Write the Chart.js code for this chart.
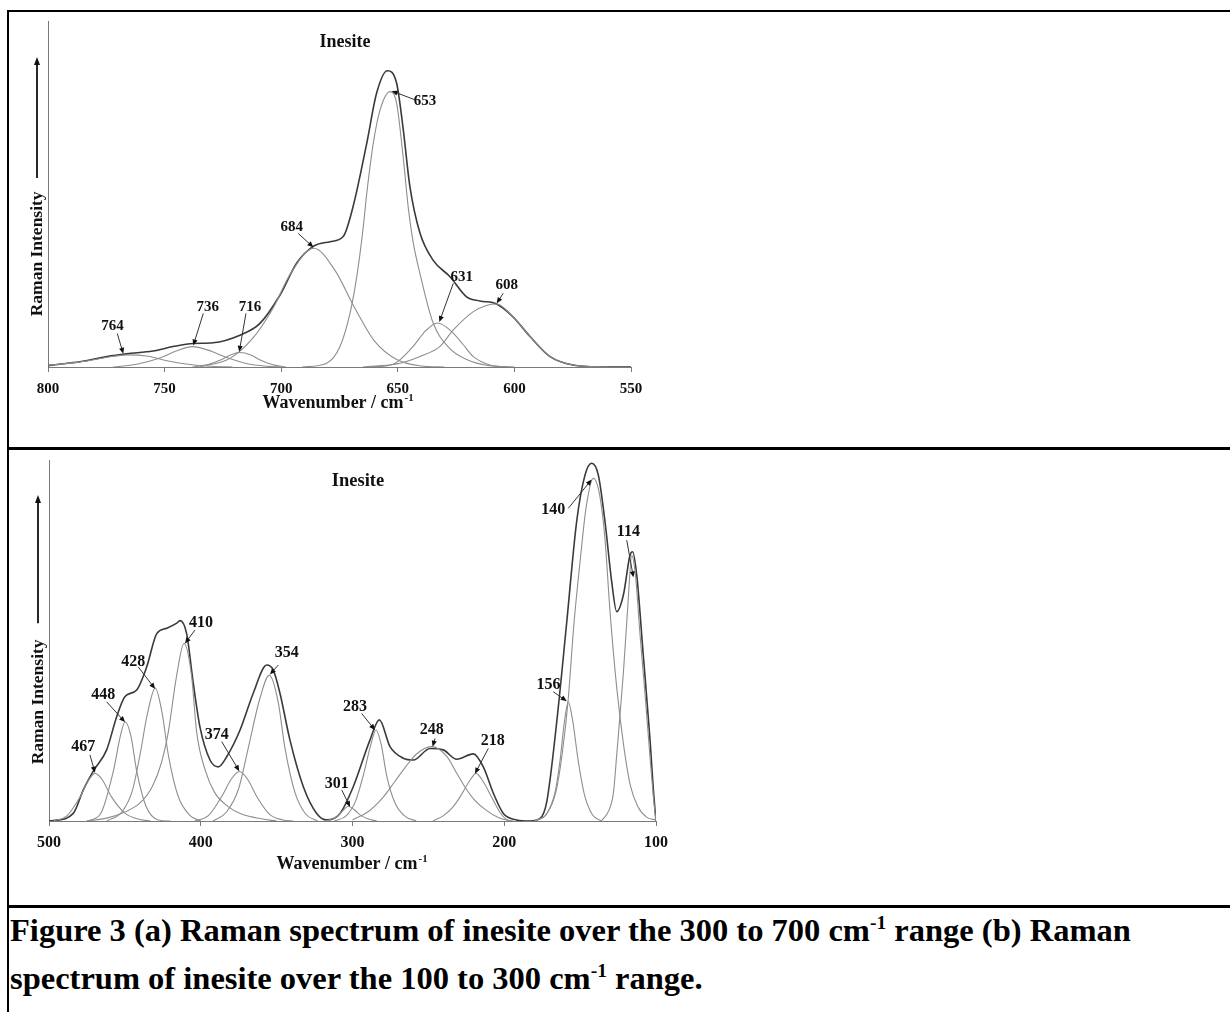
<!DOCTYPE html>
<html><head><meta charset="utf-8">
<script src="https://cdn.jsdelivr.net/npm/chart.js@4.4.1/dist/chart.umd.min.js"></script>
<style>
html,body{margin:0;padding:0;background:#fff;}
body{width:1230px;height:1012px;position:relative;overflow:hidden;font-family:"Liberation Serif","Times New Roman",serif;}
.rule{position:absolute;background:#000;}
canvas{position:absolute;left:0;}
#cap{position:absolute;left:10px;top:906px;font-weight:bold;font-size:32.5px;line-height:48px;color:#000;white-space:nowrap;}
#cap sup{font-size:0.6em;line-height:0;vertical-align:0.6em;}
</style></head><body>
<div class="rule" style="left:7px;top:10px;width:1223px;height:2px"></div>
<div class="rule" style="left:7px;top:10px;width:2px;height:1002px"></div>
<div class="rule" style="left:7px;top:447px;width:1223px;height:3px"></div>
<div class="rule" style="left:7px;top:905px;width:1223px;height:3px"></div>
<canvas id="topChart" width="1230" height="440" style="top:0"></canvas>
<canvas id="botChart" width="1230" height="450" style="top:450px"></canvas>
<div id="cap">Figure 3 (a) Raman spectrum of inesite over the 300 to 700 cm<sup>-1</sup> range (b) Raman<br>spectrum of inesite over the 100 to 300 cm<sup>-1</sup> range.</div>
<script>
// ---------- DATA: panel (a) ----------
const TOP_TICKS = [800, 750, 700, 650, 600, 550];
const TOP_ENVELOPE = [[800,0.4],[797.9,0.6],[786.3,1.5],[774.8,3.0],[766.3,3.8],[755,4.6],[746.4,5.9],[737.8,6.8],[729.2,7.0],[717.7,9.2],[709.1,12.6],[700.5,20.8],[693.4,30.0],[686.4,34.8],[679.1,36.2],[673.4,37.7],[669.2,46.3],[663.3,64.7],[659.1,79.1],[654.5,85.6],[650.5,82.0],[647.8,69.4],[644.8,52.1],[640.5,38.7],[634.9,30.9],[627.6,26.1],[620.5,20.3],[614.8,19.1],[607.6,18.2],[600.6,14.5],[593.3,8.8],[584.7,3.0],[574.9,0.6],[560.3,0],[550,0]];
const TOP_764 = [[800,0.5],[790,1.2],[782,1.9],[774,2.9],[766,3.5],[757,3.1],[749,1.8],[740,0.8],[730,0.2],[721,0]];
const TOP_736 = [[772,0],[762,0.8],[752,2.6],[745,4.6],[738,5.9],[731,4.8],[724,2.9],[715,1.0],[706,0.2],[700,0]];
const TOP_716 = [[738,0],[731,0.8],[726,2.0],[722,3.4],[718,4.2],[713,3.5],[709,2.0],[704,0.7],[698,0]];
const TOP_684 = [[735,0],[722,2.5],[712,8.5],[703.5,17],[696,27],[686,34.3],[677,28],[668.4,17],[660,7.5],[650,2],[640,0.3],[630,0]];
const TOP_653 = [[691,0],[680.5,1.1],[674.8,5.9],[670.5,15.5],[667.6,26.1],[664.8,40.5],[663.3,50.2],[660.5,64.7],[657.6,74.3],[653.3,79.6],[650.5,76.2],[647.6,60],[645.5,46],[643.4,36],[640.5,27],[635,13],[628,5.5],[620,2],[612,0.5],[600,0]];
const TOP_631 = [[662,0],[652,0.8],[643.5,5.9],[638,10.5],[633,12.7],[627,10.3],[622,6.5],[617.6,3.0],[610.5,0.6],[603,0]];
const TOP_608 = [[665,0],[649,1.1],[640,3.2],[632,5.9],[626.2,10.7],[617.6,16],[612,17.8],[607.6,18.2],[600.6,14.5],[593.3,8.8],[584.7,3.0],[574.9,0.6],[560,0]];
const TOP_PEAKS = ['764','736','716','684','653','631','608'];

// ---------- DATA: panel (b) ----------
const BOT_TICKS = [500, 400, 300, 200, 100];
const BOT_ENVELOPE = [[500,0],[497.2,0.1],[484,2.1],[477.4,8.6],[470.8,13.8],[462,19.7],[455.4,28.9],[449.9,34.5],[442.2,36.3],[435.6,42.7],[429,51.9],[422.4,53.4],[415.8,54.8],[413.7,55.5],[409.3,51.9],[404.9,38.1],[400.5,26.0],[393.9,16.9],[388.4,15.0],[382.9,17.8],[374.1,25.2],[365.4,35.4],[356.5,43.2],[352.2,41.8],[347.8,35.4],[341.2,22.4],[332.4,9.5],[323.6,2.1],[317,0.3],[308.2,2.1],[299.5,9.5],[288.5,22.4],[282.3,28.0],[275.3,20.6],[266.5,17.4],[259.9,16.9],[248.9,20.1],[240.2,19.7],[231.3,17.1],[220.4,18.6],[213.8,15.0],[207.2,7.7],[200.6,2.1],[191.8,0.3],[183,0],[176.4,0.7],[172,5.3],[165.4,27.5],[158.8,55.2],[152.3,82.9],[146.8,95.8],[142.4,99.1],[138,95.8],[133.6,82.9],[129.2,66.3],[125.9,58.0],[121.5,62.6],[117.1,73.7],[115.4,74.6],[112.7,68.1],[108.4,46.0],[104,22.9],[101.8,9],[100,0]];
const BOT_467 = [[497,0],[488,1.5],[479.6,6.6],[474,11.2],[469.7,13.2],[465,11.5],[458.7,6.6],[450,2.2],[440,0.4],[433,0]];
const BOT_448 = [[475,0],[466,2],[457.6,13.8],[453,23.5],[449.9,27.5],[446,23.5],[442.2,13.8],[436,4],[428,0.3],[420,0]];
const BOT_428 = [[462,0],[452,2.5],[445,8.5],[440,18.4],[435,30],[430,36.8],[425.5,30],[421.4,18.4],[415,7],[407,1.5],[400,0]];
const BOT_410 = [[475,0],[462,0.8],[450,2.5],[440,5],[432,9.5],[426,16],[421.4,24.6],[416,40],[411,49.2],[406,40],[402.7,24.6],[397,14],[391,8],[382,4],[374,2.1],[360,0.6],[350,0]];
const BOT_374 = [[404,0],[395,1.5],[386.2,6.8],[380,11.5],[374.6,13.7],[369,11.5],[363.1,6.8],[355,2],[346,0.3],[339,0]];
const BOT_354 = [[392,0],[383,2.5],[375,9],[368.7,20.2],[361,34],[354.8,40.4],[349,33],[344.5,20.2],[338,8],[331,2],[323,0]];
const BOT_301 = [[318,0],[311,1],[306,3],[302.8,4.1],[299,3.2],[295,1.7],[290,0.6],[284,0]];
const BOT_283 = [[312,0],[304,1.5],[298,5.5],[292.9,12.6],[288,21],[284.5,25.2],[281,21],[277.5,12.6],[272,5],[265,1.2],[258,0]];
const BOT_248 = [[300,0.3],[290,2.5],[280,6.5],[272,11],[265,15],[258,18.5],[248,20.6],[238,18],[231,13],[226,9.5],[220,6],[212,3],[204,1],[196,0]];
const BOT_218 = [[247,0],[240,1.5],[234,3.8],[229.2,6.6],[223,11],[218.6,13.2],[214,11],[208.3,6.6],[203,2.5],[198,0.3],[194,0]];
const BOT_156 = [[180,0],[172,2],[166.5,8],[163.3,16.5],[160.5,27],[157.8,33],[155,28],[151.2,16.5],[147,7],[142,1.8],[136,0]];
const BOT_140 = [[180,0],[172,2],[166,8],[162,18],[158,33],[154,55],[150,72],[146,87],[141.3,94.9],[137,90],[133.6,78],[130.3,58],[125.9,37],[121.5,21.5],[117,10],[112,4],[106,1],[100,0.3]];
const BOT_114 = [[136,0],[131,3],[128,8],[125.9,18.3],[121.5,41],[118.5,60],[116,73.5],[113.5,68],[110.6,52],[107.2,35],[104,18],[101.8,7],[100,0]];
const BOT_PEAKS = ['467','448','428','410','374','354','301','283','248','218','156','140','114'];

// ---------- LAYOUT of callouts (text centre, arrow start, arrow tip in data units) ----------
const TOP_CALLOUTS = [
  {at:[772.3,11.8], from:[770.3,9.7], to:[767.7,3.8]},
  {at:[731.5,17.4], from:[733.4,15.5], to:[737.7,6.2]},
  {at:[713.4,17.4], from:[715.1,15.5], to:[718,4.4]},
  {at:[695.5,40.5], from:[692.7,38.6], to:[686.2,34.6]},
  {at:[638.3,76.7], from:[642.6,77.2], to:[652.6,79.8]},
  {at:[622.6,26.1], from:[626.2,24.2], to:[632.2,13.0]},
  {at:[603.3,23.7], from:[604.8,21.3], to:[607.6,18.4]}
].map((c,i)=>Object.assign({text:TOP_PEAKS[i]},c));
const BOT_CALLOUTS = [
  {at:[477.4,20.6], from:[473,18.3], to:[469.7,13.4]},
  {at:[464.2,34.9], from:[462,33], to:[449.9,27.4]},
  {at:[444.4,44.1], from:[441.2,42.7], to:[430.1,36.6]},
  {at:[399.8,54.9], from:[403.8,52.9], to:[410.4,49.2]},
  {at:[389.5,23.8], from:[386.2,22], to:[374.6,13.8]},
  {at:[343.4,46.5], from:[348.9,43.2], to:[354.4,40.6]},
  {at:[310.4,10.4], from:[307.1,8.6], to:[301.6,3.9]},
  {at:[298.4,31.7], from:[294,29.8], to:[285.2,25.2]},
  {at:[247.8,25.2], from:[245.6,22.9], to:[247.2,20.6]},
  {at:[207.6,22.2], from:[210.5,20.1], to:[219.3,13.1]},
  {at:[170.9,37.7], from:[167.7,35.8], to:[158.8,33.2]},
  {at:[167.7,86.1], from:[157.8,86.6], to:[142.4,94.6]},
  {at:[118.2,80], from:[119.3,77.8], to:[114.9,67.5]}
].map((c,i)=>Object.assign({text:BOT_PEAKS[i]},c));

const FONT = s => `bold ${s}px "Liberation Serif", "Times New Roman", serif`;

const decor = {
  id: 'decor',
  afterDraw(chart, args, o) {
    const {ctx, chartArea: ca} = chart;
    const xs = chart.scales.x, ys = chart.scales.y;
    const X = v => xs.getPixelForValue(v), Y = v => ys.getPixelForValue(v);
    ctx.save();
    ctx.fillStyle = '#111'; ctx.strokeStyle = '#111';
    ctx.textAlign = 'center'; ctx.textBaseline = 'middle';
    // panel title
    ctx.font = FONT(o.titleSize);
    ctx.fillText(o.title, X(o.titleAt[0]), Y(o.titleAt[1]));
    // y arrow + label
    const ax = ca.left - 11;
    const yb = Y(o.arrowFrom), yt = Y(o.arrowTo);
    ctx.lineWidth = 1.8;
    ctx.beginPath(); ctx.moveTo(ax, yb); ctx.lineTo(ax, yt + 5); ctx.stroke();
    ctx.beginPath(); ctx.moveTo(ax, yt); ctx.lineTo(ax - 3, yt + 8); ctx.lineTo(ax + 3, yt + 8); ctx.closePath(); ctx.fill();
    ctx.save();
    ctx.translate(ax, Y(o.yLabelAt)); ctx.rotate(-Math.PI / 2);
    ctx.font = FONT(o.yLabelSize); ctx.fillText(o.yLabel, 0, 0);
    ctx.restore();
    // x title with superscript
    ctx.font = FONT(o.xTitleSize);
    const w1 = ctx.measureText(o.xTitle).width;
    ctx.font = FONT(o.xTitleSize * 0.6);
    const w2 = ctx.measureText(o.xTitleSup).width;
    const cx = X(o.xTitleAt), by = ca.bottom + o.xTitleDy;
    const sx = cx - (w1 + w2 + 1) / 2;
    ctx.textAlign = 'left'; ctx.textBaseline = 'alphabetic';
    ctx.font = FONT(o.xTitleSize); ctx.fillText(o.xTitle, sx, by);
    ctx.font = FONT(o.xTitleSize * 0.6); ctx.fillText(o.xTitleSup, sx + w1 + 1, by - o.xTitleSize * 0.38);
    // callouts
    ctx.textAlign = 'center'; ctx.textBaseline = 'middle';
    ctx.font = FONT(o.labelSize);
    ctx.lineWidth = 1; ctx.strokeStyle = '#333';
    for (const c of o.callouts) {
      ctx.fillText(c.text, X(c.at[0]), Y(c.at[1]));
      const x0 = X(c.from[0]), y0 = Y(c.from[1]), x1 = X(c.to[0]), y1 = Y(c.to[1]);
      const a = Math.atan2(y1 - y0, x1 - x0), L = 6, W = 2.6;
      ctx.beginPath(); ctx.moveTo(x0, y0); ctx.lineTo(x1 - Math.cos(a) * L * 0.7, y1 - Math.sin(a) * L * 0.7); ctx.stroke();
      ctx.beginPath();
      ctx.moveTo(x1, y1);
      ctx.lineTo(x1 - L * Math.cos(a) + W * Math.sin(a), y1 - L * Math.sin(a) - W * Math.cos(a));
      ctx.lineTo(x1 - L * Math.cos(a) - W * Math.sin(a), y1 - L * Math.sin(a) + W * Math.cos(a));
      ctx.closePath(); ctx.fill();
    }
    ctx.restore();
  }
};

function buildChart(id, p) {
  const ds = p.components.map(d => ({data: d, borderColor: '#8e8e8e', borderWidth: 1.1, pointRadius: 0, cubicInterpolationMode: 'monotone', fill: false}));
  ds.push({data: p.envelope, borderColor: '#3a3a3a', borderWidth: 1.6, pointRadius: 0, cubicInterpolationMode: 'monotone', fill: false});
  return new Chart(document.getElementById(id), {
    type: 'line',
    data: {datasets: ds},
    options: {
      responsive: false, animation: false, devicePixelRatio: 1,
      layout: {padding: p.padding},
      plugins: {legend: {display: false}, tooltip: {enabled: false}, decor: p.decor},
      scales: {
        x: {
          type: 'linear', reverse: true, min: p.min, max: p.max,
          afterBuildTicks: s => { s.ticks = p.ticks.map(v => ({value: v})); },
          afterFit: s => { s.height = 30; },
          grid: {display: true, drawOnChartArea: false, drawTicks: true, tickLength: 5, color: '#7a7a7a'},
          border: {display: true, color: '#7a7a7a', width: 1},
          ticks: {autoSkip: false, maxRotation: 0, padding: p.tickPad, color: '#111',
                  font: {family: '"Liberation Serif"', size: p.tickSize, weight: 'bold'},
                  callback: v => String(v)}
        },
        y: {
          min: 0, max: 100,
          afterFit: s => { s.width = 0; },
          grid: {display: false},
          border: {display: true, color: '#7a7a7a', width: 1},
          ticks: {display: false}
        }
      }
    },
    plugins: [decor]
  });
}

buildChart('topChart', {
  components: [TOP_764, TOP_736, TOP_716, TOP_684, TOP_653, TOP_631, TOP_608],
  envelope: TOP_ENVELOPE, ticks: TOP_TICKS, min: 550, max: 800,
  padding: {left: 48, right: 599, top: 21, bottom: 43},
  tickPad: 8, tickSize: 15,
  decor: {title: 'Inesite', titleAt: [672.6, 93.9], titleSize: 18,
          arrowFrom: 54.6, arrowTo: 89.6, yLabel: 'Raman Intensity', yLabelAt: 32.7, yLabelSize: 17.5,
          xTitle: 'Wavenumber / cm', xTitleSup: '-1', xTitleAt: 675.6, xTitleDy: 41, xTitleSize: 18,
          labelSize: 15, callouts: TOP_CALLOUTS}
});

buildChart('botChart', {
  components: [BOT_467, BOT_448, BOT_428, BOT_410, BOT_374, BOT_354, BOT_301, BOT_283, BOT_248, BOT_218, BOT_156, BOT_140, BOT_114],
  envelope: BOT_ENVELOPE, ticks: BOT_TICKS, min: 100, max: 500,
  padding: {left: 49, right: 574, top: 10, bottom: 49},
  tickPad: 7, tickSize: 16,
  decor: {title: 'Inesite', titleAt: [296.4, 94.2], titleSize: 18.5,
          arrowFrom: 54.8, arrowTo: 90.3, yLabel: 'Raman Intensity', yLabelAt: 33, yLabelSize: 17.5,
          xTitle: 'Wavenumber / cm', xTitleSup: '-1', xTitleAt: 300.3, xTitleDy: 48, xTitleSize: 18,
          labelSize: 16, callouts: BOT_CALLOUTS}
});
</script>
</body></html>
